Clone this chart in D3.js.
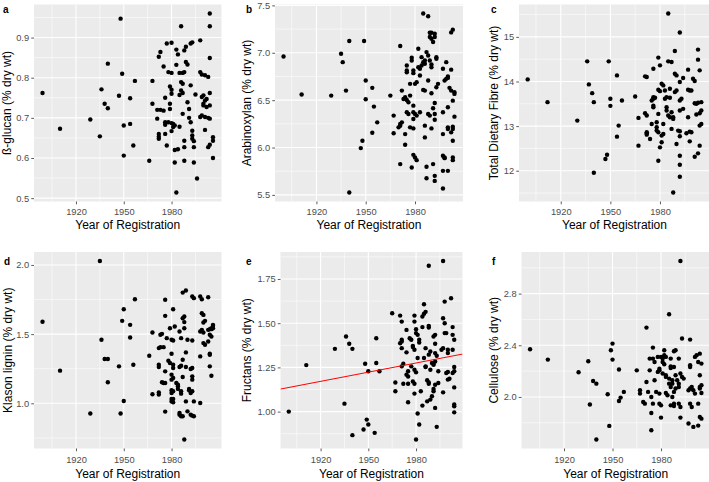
<!DOCTYPE html>
<html><head><meta charset="utf-8">
<script src="https://cdn.jsdelivr.net/npm/d3@7"></script>
<style>body{margin:0;background:#fff}svg{display:block}text{font-family:"Liberation Sans",Arial,sans-serif}</style>
</head><body>
<svg id="chart" width="709" height="482"></svg>
<script>
// ---- data: [year of registration, value (% dry wt)] ----
const yearTicks = [1920, 1950, 1980];

const betaGlucan = [[1899,0.762],[1910,0.673],[1929,0.696],[1935,0.654],[1936,0.771],[1938,0.735],[1940,0.724],[1940,0.835],[1947,0.755],[1948,0.947],[1949,0.810],[1950,0.681],[1950,0.606],[1954,0.685],[1954,0.749],[1956,0.631],[1957,0.792],[1966,0.593],[1968,0.792],[1968,0.735],
[1971,0.720],[1973,0.720],[1975,0.718],[1971,0.698],[1972,0.660],[1972,0.653],[1972,0.648],[1972,0.852],[1973,0.864],[1975,0.828],[1976,0.750],[1976,0.689],[1976,0.683],[1977,0.631],[1976,0.660],[1977,0.885],[1980,0.887],[1978,0.814],[1980,0.812],[1979,0.778],[1980,0.770],[1980,0.760],[1979,0.722],[1979,0.735],[1978,0.689],[1980,0.687],[1981,0.685],[1981,0.677],[1982,0.681],[1980,0.667],[1985,0.678],[1982,0.620],[1984,0.622],[1982,0.589],[1983,0.514],[1983,0.870],[1984,0.858],[1983,0.832],[1986,0.928],[1985,0.812],[1987,0.812],[1988,0.814],[1986,0.789],[1987,0.785],[1986,0.768],[1987,0.762],[1985,0.757],[1987,0.710],[1988,0.868],[1989,0.877],[1992,0.885],[1993,0.888],[1989,0.839],[1990,0.833],[1990,0.739],[1991,0.722],[1991,0.700],[1992,0.689],[1993,0.668],[1993,0.656],[1993,0.648],[1994,0.642],[1988,0.627],[1988,0.643],[1988,0.593],[1994,0.589],[1992,0.781],[1995,0.758],[1994,0.627],[1996,0.549],[1998,0.893],[1998,0.814],[1999,0.808],[2001,0.806],[2003,0.802],[1999,0.752],[2000,0.756],[2001,0.743],[2002,0.747],[2000,0.735],[2000,0.731],[2002,0.727],[1998,0.702],[1999,0.706],[2001,0.702],[2003,0.700],[2001,0.670],[2004,0.849],[2004,0.960],[2004,0.928],[2004,0.762],[2004,0.731],[2004,0.698],[2006,0.652],[2006,0.643],[2004,0.633],[2003,0.627],[2006,0.600]];

const arabinoxylan = [[1900,6.961],[1911,6.559],[1929,6.548],[1935,6.989],[1936,6.901],[1938,6.601],[1940,7.124],[1940,5.525],[1947,5.994],[1948,6.072],[1949,7.124],[1950,6.707],[1950,6.509],[1954,6.630],[1954,6.156],[1955,6.432],[1957,6.266],[1965,6.548],[1967,6.337],[1967,6.150],
[1971,7.071],[1970,6.213],[1971,6.248],[1971,6.231],[1972,6.266],[1971,5.825],[1972,6.601],[1973,6.513],[1974,6.531],[1975,6.502],[1976,6.478],[1974,6.142],[1974,6.030],[1975,6.866],[1975,6.813],[1975,6.795],[1975,6.372],[1976,6.354],[1977,6.213],[1977,6.672],[1977,6.548],[1978,6.947],[1978,6.919],[1978,5.789],[1979,6.813],[1979,6.785],[1979,6.372],[1980,6.354],[1981,6.337],[1979,6.301],[1979,6.442],[1979,6.202],[1979,5.923],[1980,5.895],[1981,5.867],[1980,6.672],[1981,6.690],[1982,7.043],[1982,6.848],[1983,6.831],[1984,6.866],[1983,6.760],[1984,6.954],[1983,6.372],[1985,6.901],[1986,6.919],[1986,6.884],[1985,6.608],[1986,6.601],[1985,7.415],[1988,7.385],[1986,6.107],[1986,6.231],[1987,5.797],[1987,5.676],[1987,7.007],[1988,6.972],[1988,6.707],[1988,6.354],[1989,6.337],[1989,6.919],[1989,7.212],[1989,7.166],[1990,7.212],[1990,7.148],[1990,6.848],[1990,6.877],[1990,6.573],[1990,6.202],[1991,6.414],[1992,6.354],[1991,5.825],[1992,5.701],[1992,5.648],[1992,7.201],[1992,7.166],[1991,7.113],[1992,6.470],[1992,6.294],[1993,6.937],[1993,6.954],[1993,6.636],[1994,6.672],[1997,6.372],[1997,6.831],[1997,6.142],[1997,5.913],[1998,5.895],[1998,5.888],[1997,5.754],[1997,5.567],[1998,6.707],[1999,6.725],[1999,6.901],[2000,6.750],[2000,6.735],[2000,5.754],[2000,6.195],[2000,6.213],[2000,6.425],[2001,6.630],[2002,6.601],[2002,6.822],[2002,7.215],[2003,7.244],[2003,6.195],[2002,6.160],[2003,6.220],[2003,5.895],[2003,5.867],[2003,6.495],[2003,6.072],[2004,6.584],[2004,6.566],[2004,6.326]];

const dietaryFibre = [[1900,14.047],[1912,13.537],[1930,13.124],[1936,14.452],[1937,13.935],[1939,13.739],[1940,13.537],[1940,11.954],[1947,12.262],[1948,12.359],[1949,14.452],[1950,13.612],[1950,13.454],[1954,14.137],[1955,13.012],[1954,12.764],[1957,13.574],[1965,13.664],[1967,13.184],[1967,12.562],
[1971,14.115],[1972,14.100],[1971,13.289],[1972,12.862],[1972,12.839],[1972,12.809],[1972,13.237],[1974,12.712],[1975,13.049],[1975,13.574],[1976,13.612],[1976,13.459],[1976,13.424],[1976,13.649],[1977,13.634],[1976,14.287],[1978,12.899],[1978,12.974],[1979,12.862],[1978,13.087],[1979,13.274],[1979,14.535],[1979,12.224],[1979,13.815],[1980,13.784],[1980,14.362],[1980,12.524],[1981,12.637],[1981,12.787],[1982,12.824],[1981,13.950],[1982,13.912],[1982,13.049],[1983,13.612],[1984,13.649],[1983,13.799],[1984,13.424],[1984,13.349],[1985,13.237],[1986,13.199],[1985,15.525],[1985,14.452],[1987,14.437],[1986,13.634],[1986,13.837],[1987,12.937],[1987,13.312],[1988,13.199],[1988,11.511],[1988,13.162],[1989,14.685],[1989,14.175],[1990,14.137],[1989,13.762],[1990,13.799],[1990,12.599],[1991,12.899],[1992,12.884],[1992,12.337],[1992,13.987],[1992,13.349],[1994,13.387],[1992,15.097],[1992,13.574],[1993,13.612],[1992,12.134],[1992,11.864],[1992,12.772],[1994,14.077],[1996,12.839],[1997,14.265],[1997,13.815],[1998,13.799],[1999,13.799],[1997,13.199],[1998,12.877],[1999,12.862],[1998,12.659],[2000,14.062],[2001,14.010],[2001,12.314],[2001,13.514],[2002,13.499],[2003,13.522],[2002,13.259],[2003,14.715],[2003,14.490],[2003,12.389],[2004,14.250],[2004,12.562],[2004,13.289],[2005,13.349],[2004,13.012],[2005,13.049],[2005,13.537]];

const klasonLignin = [[1899,1.589],[1910,1.236],[1929,0.926],[1935,2.029],[1936,1.459],[1938,1.320],[1940,1.320],[1940,1.152],[1947,1.267],[1948,0.926],[1949,1.596],[1950,1.680],[1950,1.017],[1954,1.567],[1954,1.476],[1956,1.279],[1957,1.752],[1966,1.344],[1968,1.512],[1968,1.065],
[1972,1.063],[1972,1.079],[1972,1.399],[1973,1.406],[1972,1.279],[1972,1.262],[1973,1.495],[1974,1.502],[1974,1.152],[1975,1.147],[1976,1.147],[1975,1.406],[1976,1.632],[1976,1.748],[1976,0.940],[1976,1.231],[1977,1.471],[1978,1.308],[1979,1.291],[1979,1.543],[1980,1.358],[1980,1.207],[1980,1.171],[1981,1.183],[1980,1.094],[1980,1.075],[1981,1.087],[1980,1.031],[1980,1.014],[1981,1.007],[1981,1.031],[1980,1.459],[1981,1.454],[1981,1.680],[1981,1.279],[1981,1.255],[1982,1.555],[1983,1.147],[1984,1.123],[1984,1.135],[1984,1.104],[1985,1.519],[1985,0.930],[1985,0.918],[1986,0.906],[1987,0.906],[1985,1.262],[1986,1.272],[1986,1.087],[1986,1.070],[1986,1.471],[1987,1.615],[1988,1.627],[1987,1.800],[1989,1.815],[1987,1.190],[1987,1.315],[1988,0.738],[1988,1.543],[1988,1.587],[1989,1.368],[1989,1.262],[1990,1.459],[1990,0.942],[1989,1.014],[1991,1.104],[1991,1.094],[1992,1.075],[1993,1.087],[1992,1.248],[1993,1.255],[1993,1.454],[1993,1.195],[1993,1.171],[1992,0.918],[1993,0.911],[1994,0.906],[1994,1.014],[1993,1.772],[1994,1.760],[1998,1.002],[1998,1.519],[1999,1.531],[2000,1.512],[1998,1.339],[1999,1.651],[2000,1.639],[1998,1.772],[1999,1.752],[2000,1.584],[2001,1.596],[2000,1.435],[2001,1.423],[2003,1.447],[2003,1.767],[2003,1.531],[2004,1.536],[2005,1.543],[2005,1.536],[2004,1.358],[2004,1.351],[2004,1.267],[2005,1.199],[2004,1.495],[2005,1.483],[2006,1.567],[2006,1.560],[2006,1.543]];

const fructans = [[1900,1.000],[1911,1.263],[1929,1.355],[1935,1.045],[1936,1.425],[1938,1.384],[1940,1.355],[1940,0.867],[1947,0.899],[1948,1.271],[1949,0.955],[1950,1.228],[1950,0.927],[1955,1.415],[1954,0.880],[1955,1.275],[1957,1.228],[1965,1.556],[1967,1.115],[1967,1.165],
[1970,1.543],[1971,1.509],[1970,1.387],[1971,1.397],[1971,1.406],[1971,1.359],[1972,1.271],[1971,1.256],[1972,1.158],[1974,1.462],[1974,1.335],[1975,1.228],[1974,1.209],[1975,1.199],[1975,1.053],[1975,1.158],[1976,1.415],[1977,1.406],[1977,1.256],[1978,1.372],[1978,1.365],[1979,1.350],[1978,1.171],[1979,1.102],[1979,1.509],[1979,1.158],[1979,1.543],[1980,1.466],[1980,1.444],[1979,1.237],[1980,1.222],[1980,0.842],[1981,1.303],[1981,1.434],[1982,1.406],[1982,1.391],[1981,0.989],[1982,0.927],[1983,1.115],[1984,1.034],[1984,1.538],[1985,1.553],[1986,1.564],[1985,1.607],[1984,1.478],[1985,1.303],[1986,1.256],[1986,1.252],[1986,1.359],[1987,1.058],[1988,1.825],[1987,1.177],[1988,1.158],[1988,1.165],[1988,1.485],[1988,1.476],[1988,1.322],[1989,1.340],[1989,1.237],[1989,1.068],[1990,1.087],[1990,1.275],[1991,1.265],[1991,1.271],[1992,1.284],[1991,1.425],[1992,1.434],[1991,1.115],[1991,1.128],[1992,1.152],[1992,1.331],[1993,1.316],[1992,1.384],[1992,1.021],[1993,0.914],[1994,1.162],[1994,1.228],[1996,1.350],[1997,1.359],[1997,1.528],[1998,1.500],[1997,1.109],[1997,1.852],[1998,1.622],[1998,1.444],[1999,1.444],[1999,1.218],[2000,1.224],[2000,1.181],[2001,1.186],[2000,1.331],[2000,1.350],[2002,1.641],[2003,1.478],[2003,1.350],[2003,1.218],[2004,1.228],[2003,1.434],[2004,1.040],[2004,1.030],[2004,1.137],[2004,0.996],[2004,1.252],[2004,1.406]];

const cellulose = [[1899,2.369],[1910,2.289],[1929,2.191],[1935,2.276],[1936,1.941],[1938,2.124],[1940,2.103],[1940,1.670],[1947,2.021],[1948,1.776],[1949,2.361],[1950,2.413],[1950,2.289],[1954,2.212],[1954,1.969],[1955,1.995],[1957,2.039],[1965,2.206],[1967,2.052],[1967,2.026],
[1969,1.961],[1970,1.948],[1971,2.537],[1972,2.039],[1971,2.116],[1973,2.297],[1973,2.206],[1974,2.000],[1974,1.876],[1974,1.742],[1975,2.382],[1975,2.297],[1975,1.948],[1976,2.129],[1976,2.271],[1977,2.039],[1978,2.310],[1978,2.194],[1979,2.206],[1979,2.219],[1979,1.948],[1980,1.935],[1979,2.026],[1980,2.310],[1981,2.297],[1980,1.840],[1981,2.181],[1981,2.271],[1982,2.253],[1982,2.361],[1982,2.323],[1983,2.310],[1983,2.155],[1983,2.168],[1985,2.142],[1983,2.031],[1984,2.013],[1985,2.640],[1985,2.103],[1986,2.077],[1986,1.935],[1986,2.224],[1986,2.237],[1986,2.297],[1987,2.000],[1988,1.948],[1988,1.930],[1987,2.129],[1987,2.103],[1988,2.039],[1989,2.065],[1988,2.354],[1989,2.361],[1988,2.232],[1989,2.168],[1990,2.129],[1991,2.297],[1991,2.103],[1991,2.077],[1991,1.948],[1992,1.922],[1992,3.053],[1992,1.840],[1992,2.181],[1993,2.155],[1993,2.452],[1994,2.142],[1997,1.794],[1997,2.052],[1998,2.065],[1998,2.444],[1998,2.245],[1998,2.232],[1998,1.948],[1999,1.922],[1999,2.077],[2000,2.052],[2000,1.768],[2001,2.310],[2002,2.323],[2001,2.026],[2003,1.948],[2003,2.271],[2003,1.778],[2004,2.077],[2004,2.065],[2005,2.090],[2004,2.168],[2004,1.845],[2005,1.832],[2005,2.258],[2005,2.031],[2004,2.335]];

// y-axis tick values
const glucanTicks = [0.5, 0.6, 0.7, 0.8, 0.9];
const arabinoxylanTicks = [5.5, 6.0, 6.5, 7.0, 7.5];
const fibreTicks = [12, 13, 14, 15];
const ligninTicks = [1.0, 1.5, 2.0];
const fructanTicks = [1.00, 1.25, 1.50, 1.75];
const celluloseTicks = [2.0, 2.4, 2.8];

// linear fit shown on the fructans panel (value = intercept + slope*(year - refYear))
const fructanFit = [1.223, 0.00173, 1950];

// ---- layout ----
const panels = [
  {tag:'a', data:betaGlucan, ticks:glucanTicks, fmt:'.1f', label:'ß-glucan (% dry wt)', x0:34, x1:221.5, top:4.5, bottom:201.5, labelX:11, tagX:3, tagY:13, tickBase:215, titleBase:229},
  {tag:'b', data:arabinoxylan, ticks:arabinoxylanTicks, fmt:'.1f', label:'Arabinoxylan (% dry wt)', x0:275, x1:463, top:4.5, bottom:201.5, labelX:251, tagX:246, tagY:13, tickBase:215, titleBase:229},
  {tag:'c', data:dietaryFibre, ticks:fibreTicks, fmt:'d', label:'Total Dietary Fibre (% dry wt)', x0:519, x1:710, top:4.5, bottom:201.5, labelX:497.5, tagX:491, tagY:13, tickBase:215, titleBase:229},
  {tag:'d', data:klasonLignin, ticks:ligninTicks, fmt:'.1f', label:'Klason lignin (% dry wt)', x0:34, x1:221.5, top:252, bottom:448.5, labelX:11.5, tagX:4, tagY:265, tickBase:463, titleBase:477.5},
  {tag:'e', data:fructans, ticks:fructanTicks, fmt:'.2f', label:'Fructans (% dry wt)', x0:280.5, x1:462.5, top:252, bottom:448.5, labelX:251, tagX:246, tagY:265, tickBase:463, titleBase:477.5, fit:fructanFit},
  {tag:'f', data:cellulose, ticks:celluloseTicks, fmt:'.1f', label:'Cellulose (% dry wt)', x0:521.5, x1:710, top:252, bottom:448.5, labelX:497.5, tagX:492, tagY:265, tickBase:463, titleBase:477.5}
];

const svg = d3.select('#chart');
const defs = svg.append('defs');

function expand(ext){ const r = ext[1]-ext[0]; return [ext[0]-0.05*r, ext[1]+0.05*r]; }
function minors(ticks, dom){
  const step = ticks[1]-ticks[0];
  const out = ticks.map(t => t - step/2).concat([ticks[ticks.length-1] + step/2]);
  return out.filter(v => v >= dom[0] && v <= dom[1]);
}

panels.forEach((p, i) => {
  const xDom = expand(d3.extent(p.data, d => d[0]));
  const yDom = expand(d3.extent(p.data, d => d[1]));
  const x = d3.scaleLinear().domain(xDom).range([p.x0, p.x1]);
  const y = d3.scaleLinear().domain(yDom).range([p.bottom, p.top]);
  const g = svg.append('g');

  defs.append('clipPath').attr('id', 'clip' + i).append('rect')
    .attr('x', p.x0).attr('y', p.top).attr('width', p.x1 - p.x0).attr('height', p.bottom - p.top);

  g.append('rect').attr('x', p.x0).attr('y', p.top)
    .attr('width', p.x1 - p.x0).attr('height', p.bottom - p.top).attr('fill', '#EBEBEB');

  const grid = g.append('g').attr('clip-path', 'url(#clip' + i + ')');
  minors(yearTicks, xDom).forEach(v => grid.append('line')
    .attr('x1', x(v)).attr('x2', x(v)).attr('y1', p.top).attr('y2', p.bottom)
    .attr('stroke', '#fff').attr('stroke-width', 0.55));
  minors(p.ticks, yDom).forEach(v => grid.append('line')
    .attr('x1', p.x0).attr('x2', p.x1).attr('y1', y(v)).attr('y2', y(v))
    .attr('stroke', '#fff').attr('stroke-width', 0.55));
  yearTicks.forEach(v => grid.append('line')
    .attr('x1', x(v)).attr('x2', x(v)).attr('y1', p.top).attr('y2', p.bottom)
    .attr('stroke', '#fff').attr('stroke-width', 1.1));
  p.ticks.forEach(v => grid.append('line')
    .attr('x1', p.x0).attr('x2', p.x1).attr('y1', y(v)).attr('y2', y(v))
    .attr('stroke', '#fff').attr('stroke-width', 1.1));

  const marks = g.append('g').attr('clip-path', 'url(#clip' + i + ')');
  marks.selectAll('circle').data(p.data).enter().append('circle')
    .attr('cx', d => x(d[0])).attr('cy', d => y(d[1])).attr('r', 2.2).attr('fill', '#000');

  if (p.fit) {
    const f = yr => p.fit[0] + p.fit[1] * (yr - p.fit[2]);
    marks.append('line')
      .attr('x1', x(xDom[0])).attr('y1', y(f(xDom[0])))
      .attr('x2', x(xDom[1])).attr('y2', y(f(xDom[1])))
      .attr('stroke', '#FF0000').attr('stroke-width', 1);
  }

  // axes
  const xa = g.append('g').attr('transform', `translate(0,${p.bottom})`)
    .call(d3.axisBottom(x).tickValues(yearTicks).tickSize(2.75).tickFormat(d3.format('d')));
  xa.selectAll('text').attr('y', p.tickBase - p.bottom).attr('dy', null);
  const ya = g.append('g').attr('transform', `translate(${p.x0},0)`)
    .call(d3.axisLeft(y).tickValues(p.ticks).tickSize(2.75).tickPadding(2.2).tickFormat(d3.format(p.fmt)));
  [xa, ya].forEach(a => {
    a.select('.domain').remove();
    a.selectAll('.tick line').attr('stroke', '#333333').attr('stroke-width', 0.8);
    a.selectAll('text').attr('fill', '#4D4D4D').style('font-size', '9.3px')
      .style('font-family', '"Liberation Sans", Arial, sans-serif');
  });

  // titles
  g.append('text').attr('x', (p.x0 + p.x1) / 2).attr('y', p.titleBase)
    .attr('text-anchor', 'middle').style('font-size', '12px').attr('fill', '#000')
    .text('Year of Registration');
  g.append('text').attr('transform', `translate(${p.labelX},${(p.top + p.bottom) / 2}) rotate(-90)`)
    .attr('text-anchor', 'middle').style('font-size', '12px').attr('fill', '#000')
    .text(p.label);
  g.append('text').attr('x', p.tagX).attr('y', p.tagY)
    .style('font-size', '10px').style('font-weight', 'bold').attr('fill', '#000')
    .text(p.tag);
});
</script>
</body></html>
